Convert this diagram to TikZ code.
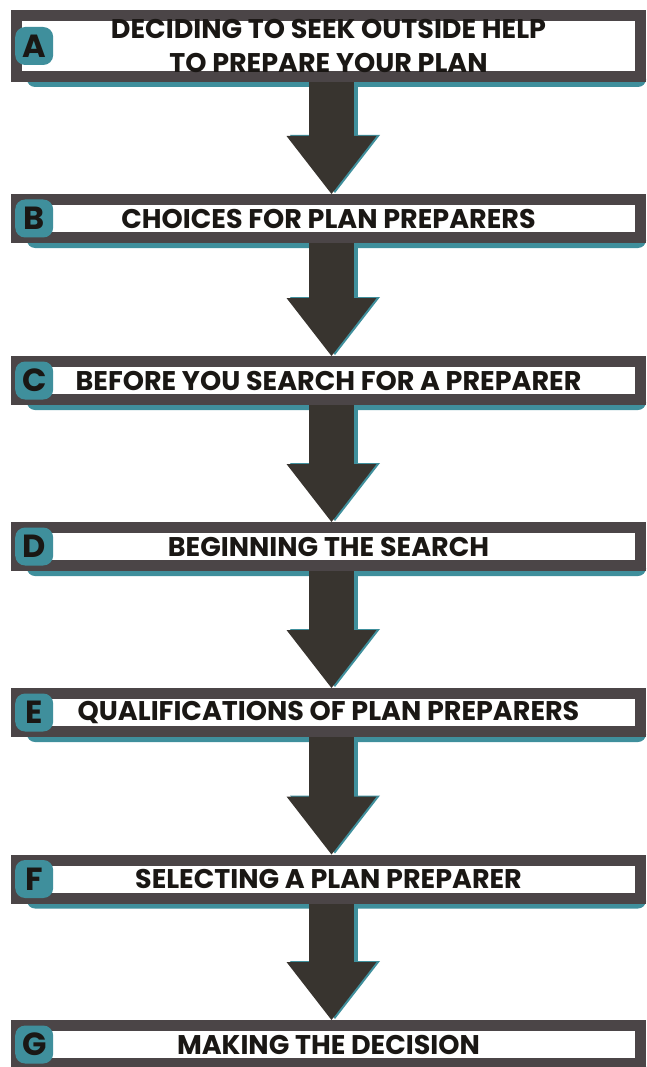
\documentclass[tikz,border=0pt]{standalone}
\usepackage{fontspec}
\newfontfamily\headfont{Poppins}
\usetikzlibrary{arrows.meta,calc,backgrounds}
\definecolor{framegray}{HTML}{4B4547}
\definecolor{arrowgray}{HTML}{38342F}
\definecolor{shadeteal}{HTML}{3F8F9C}
\definecolor{inkblack}{HTML}{1A1714}
\tikzset{
  stagebox/.style={draw=framegray, line width=11pt, fill=white, minimum width=624pt,
    inner sep=0pt, align=center, text=inkblack,
    font=\headfont\bfseries\fontsize{27}{34}\selectfont},
  letterbadge/.style={fill=shadeteal, rounded corners=10pt, minimum size=38pt,
    inner sep=0pt, anchor=west, text=inkblack,
    font=\headfont\bfseries\fontsize{32}{32}\selectfont},
  flowarrow/.style={line width=45pt, draw=arrowgray,
    -{Triangle[width=90pt,length=58pt,line width=0pt]}},
}
\begin{document}
\begin{tikzpicture}[x=1pt,y=-1pt]
  \useasboundingbox (0,0) rectangle (646,1067);
  % stages
  \foreach \tag/\ypos/\tall/\title in {
      A/46/61/{DECIDING TO SEEK OUTSIDE HELP\\TO PREPARE YOUR PLAN},
      B/218.5/38/{CHOICES FOR PLAN PREPARERS},
      C/380.5/38/{BEFORE YOU SEARCH FOR A PREPARER},
      D/546.5/38/{BEGINNING THE SEARCH},
      E/712.5/38/{QUALIFICATIONS OF PLAN PREPARERS},
      F/879/38/{SELECTING A PLAN PREPARER},
      G/1044.5/38/{MAKING THE DECISION}} {
    \node[stagebox, minimum height=\tall pt] (box\tag) at (328.5,\ypos) {\title};
    \node[letterbadge] (badge\tag) at (15,\ypos) {\tag};
  }
  \begin{scope}[on background layer]
    \foreach \tag in {A,B,C,D,E,F,G}
      \fill[shadeteal, rounded corners=8pt] ($(box\tag.south west)+(16,-10)$)
        rectangle ($(box\tag.south east)+(0,5)$);
    % arrows with their shadow
    \foreach \from/\to in {A/B,B/C,C/D,D/E,E/F,F/G} {
      \draw[flowarrow, draw=shadeteal] ($(box\from.south)+(6.5,-1)$) -- ($(box\to.north)+(6.5,-1)$);
      \draw[flowarrow] ($(box\from.south)+(3,0)$) -- ($(box\to.north)+(3,0)$);
    }
  \end{scope}
\end{tikzpicture}
\end{document}
